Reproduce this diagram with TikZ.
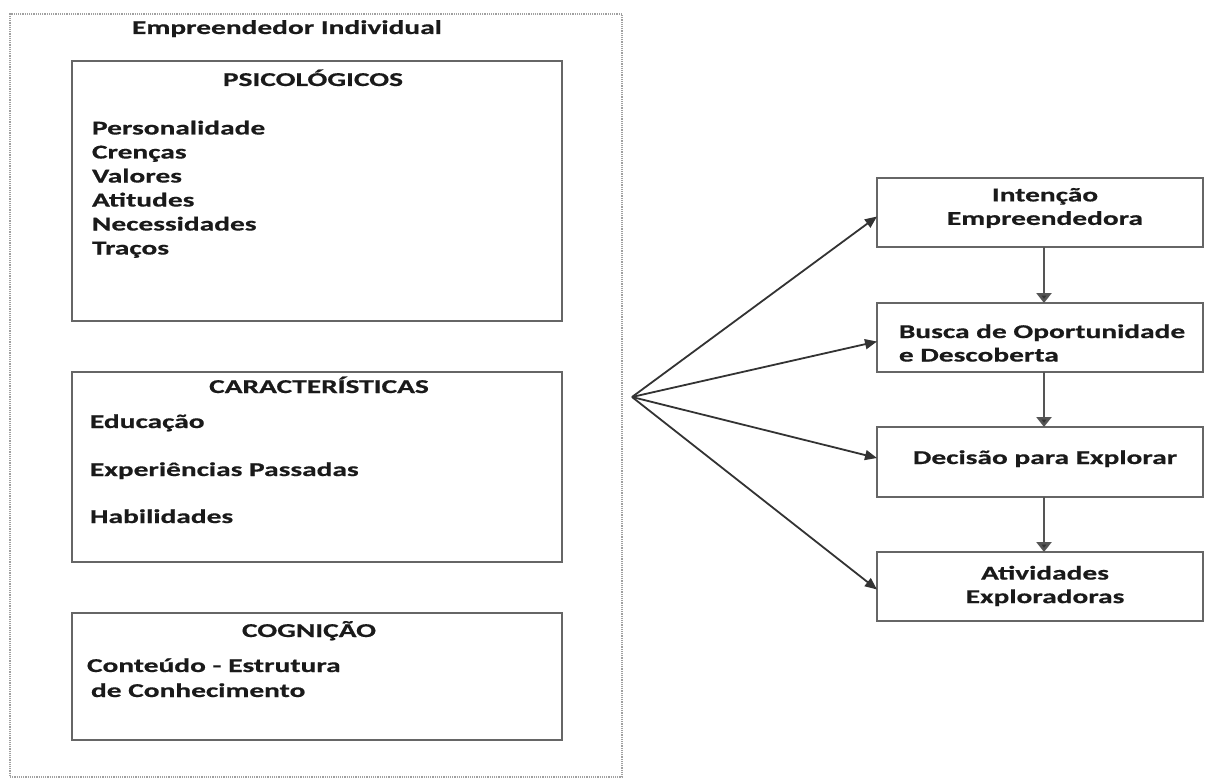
\documentclass[tikz,border=0pt]{standalone}
\usepackage{fontspec}
\setmainfont{Carlito}[FakeStretch=1.5, BoldFeatures={FakeBold=0.6}]
\usetikzlibrary{arrows.meta}
\definecolor{txt}{HTML}{1A1A1A}
\definecolor{boxline}{HTML}{666666}
\definecolor{dotline}{HTML}{A0A0A0}
\definecolor{arr}{HTML}{333333}
\definecolor{darr}{HTML}{555555}
\begin{document}
\begin{tikzpicture}[x=1pt,y=-1pt,
  every node/.style={inner sep=0pt, outer sep=0pt, text=txt, font=\fontsize{19.6}{23.5}\selectfont\bfseries},
  frame/.style={draw=boxline, line width=2.4pt, anchor=north west},
  outerframe/.style={draw=dotline, dash pattern=on 1.2pt off 1pt, line width=1.5pt, anchor=north west},
  item/.style={anchor=base west},
  head/.style={anchor=base},
  multi/.style={anchor=center},
  fan/.style={draw=arr, line width=1.8pt, -{Triangle[length=12pt,width=10pt]}},
  down/.style={draw=darr, line width=2.6pt, -{Triangle[length=10pt,width=15pt,fill=arr]}}
]
\useasboundingbox (0,0) rectangle (1205,781);
% outer dotted frame
\node[outerframe, minimum width=612pt, minimum height=763pt] (outer) at (10,14) {};
\node[head] (title) at (287,34) {Empreendedor Individual};
% left boxes
\node[frame, minimum width=490pt, minimum height=260pt] (psi) at (72,61) {};
\node[frame, minimum width=490pt, minimum height=190pt] (car) at (72,372) {};
\node[frame, minimum width=490pt, minimum height=127pt] (cog) at (72,613) {};
\node[head] (psiT) at (313,86) {PSICOLÓGICOS};
\node[item] (p1) at (92,134.5) {Personalidade};
\node[item] (p2) at (92,158.5) {Crenças};
\node[item] (p3) at (92,182.5) {Valores};
\node[item] (p4) at (92,206.5) {Atitudes};
\node[item] (p5) at (92,230.5) {Necessidades};
\node[item] (p6) at (92,254.5) {Traços};
\node[head] (carT) at (319,393) {CARACTERÍSTICAS};
\node[item] (c1) at (90,428) {Educação};
\node[item] (c2) at (90,476) {Experiências Passadas};
\node[item] (c3) at (90,523) {Habilidades};
\node[head] (cogT) at (309,637) {COGNIÇÃO};
\node[item] (g1) at (87,672) {Conteúdo - Estrutura};
\node[item] (g2) at (91,697) {de Conhecimento};
% right boxes
\node[frame, minimum width=326pt, minimum height=69pt] (r1) at (877,178) {};
\node[frame, minimum width=326pt, minimum height=69pt] (r2) at (877,303) {};
\node[frame, minimum width=326pt, minimum height=70pt] (r3) at (877,427) {};
\node[frame, minimum width=326pt, minimum height=69pt] (r4) at (877,552) {};
\node[multi, align=center] (r1t) at (1045,208) {Intenção\\Empreendedora};
\node[multi, align=left] (r2t) at (1042,343) {Busca de Oportunidade\\e Descoberta};
\node[head] (r3t) at (1045,464) {Decisão para Explorar};
\node[multi, align=center] (r4t) at (1045,586) {Atividades\\Exploradoras};
% connectors
\coordinate (src) at (632,397);
\draw[fan] (src) -- ([yshift=-4pt]r1.west);
\draw[fan] (src) -- ([yshift=-4pt]r2.west);
\draw[fan] (src) -- ([yshift=4pt]r3.west);
\draw[fan] (src) -- ([yshift=-3pt]r4.west);
\draw[down] ([xshift=4pt]r1.south) -- ([xshift=4pt]r2.north);
\draw[down] ([xshift=4pt]r2.south) -- ([xshift=4pt]r3.north);
\draw[down] ([xshift=4pt]r3.south) -- ([xshift=4pt]r4.north);
\end{tikzpicture}
\end{document}
